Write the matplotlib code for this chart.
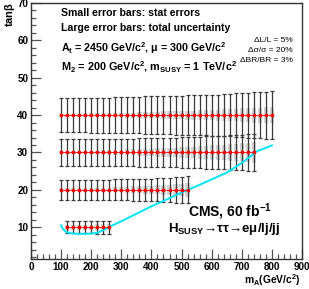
import matplotlib
matplotlib.use("Agg")
import matplotlib.pyplot as plt
from matplotlib.ticker import MultipleLocator
from matplotlib.patches import Rectangle

plt.rcParams['font.family'] = ['Liberation Sans', 'DejaVu Sans']
plt.rcParams['mathtext.fontset'] = 'custom'
plt.rcParams['mathtext.rm'] = 'Liberation Sans:bold'
plt.rcParams['mathtext.it'] = 'Liberation Sans:bold'
plt.rcParams['mathtext.bf'] = 'Liberation Sans:bold'

# ---------------- data ----------------
mA_40 = [100, 120, 140, 160, 180, 200, 220, 240, 260, 280, 300, 320, 340, 360, 380, 400, 420, 440,
         460, 480, 500, 520, 540, 560, 580, 600, 620, 640, 660, 680, 700, 720, 740, 760, 780, 800]
tot_40 = [4.6, 4.6, 4.6, 4.6, 4.6, 4.7, 4.7, 4.7, 4.7, 4.8, 4.8, 4.8, 4.9, 4.9, 5.0, 5.0, 5.0, 5.1,
          5.1, 5.2, 5.2, 5.3, 5.3, 5.4, 5.4, 5.5, 5.5, 5.6, 5.7, 5.8, 5.9, 6.0, 6.1, 6.2, 6.3, 6.5]
stat_40 = [0.4, 0.4, 0.4, 0.4, 0.5, 0.5, 0.5, 0.5, 0.6, 0.6, 0.6, 0.7, 0.7, 0.8, 0.8, 0.9, 0.9, 1.0,
           1.0, 1.1, 1.1, 1.2, 1.2, 1.3, 1.4, 1.4, 1.5, 1.6, 1.6, 1.7, 1.8, 1.9, 2.0, 2.0, 2.1, 2.2]

mA_30 = [100, 120, 140, 160, 180, 200, 220, 240, 260, 280, 300, 320, 340, 360, 380, 400, 420, 440,
         460, 480, 500, 520, 540, 560, 580, 600, 620, 640, 660, 680, 700, 720, 740]
tot_30 = [3.5, 3.5, 3.5, 3.5, 3.5, 3.6, 3.6, 3.6, 3.6, 3.6, 3.7, 3.7, 3.7, 3.8, 3.8, 3.8, 3.9, 3.9,
          4.0, 4.0, 4.1, 4.1, 4.2, 4.2, 4.3, 4.4, 4.4, 4.5, 4.6, 4.7, 4.8, 4.9, 5.0]
stat_30 = [0.4, 0.4, 0.4, 0.4, 0.5, 0.5, 0.5, 0.6, 0.6, 0.7, 0.7, 0.8, 0.8, 0.9, 1.0, 1.0, 1.1, 1.2,
           1.3, 1.3, 1.4, 1.5, 1.6, 1.7, 1.8, 1.9, 2.0, 2.1, 2.2, 2.4, 2.5, 2.6, 2.8]

mA_20 = [100, 120, 140, 160, 180, 200, 220, 240, 260, 280, 300, 320, 340, 360, 380, 400, 420, 440,
         460, 480, 500, 520]
tot_20 = [2.6, 2.6, 2.6, 2.6, 2.6, 2.6, 2.7, 2.7, 2.7, 2.8, 2.8, 2.8, 2.9, 2.9, 3.0, 3.0, 3.1, 3.2,
          3.3, 3.4, 3.5, 3.6]
stat_20 = [0.4, 0.4, 0.4, 0.4, 0.5, 0.5, 0.5, 0.6, 0.6, 0.7, 0.7, 0.8, 0.9, 0.9, 1.0, 1.1, 1.2, 1.3,
           1.4, 1.5, 1.6, 1.8]

mA_10 = [120, 140, 160, 180, 200, 220, 240, 260]
tot_10 = [1.6, 1.6, 1.6, 1.6, 1.6, 1.7, 1.7, 1.7]
stat_10 = [0.7, 0.7, 0.7, 0.7, 0.7, 0.8, 0.8, 0.8]

series = [(40, mA_40, tot_40, stat_40), (30, mA_30, tot_30, stat_30),
          (20, mA_20, tot_20, stat_20), (10, mA_10, tot_10, stat_10)]

curve_mA = [100, 105, 115, 130, 160, 200, 220, 240, 260, 300, 350, 400, 450, 500, 550, 600, 650,
            700, 750, 800]
curve_tb = [10.5, 9.6, 8.8, 8.4, 8.2, 8.3, 8.5, 9.2, 10.1, 11.6, 13.6, 15.6, 17.4, 19.3, 21.0,
            22.8, 24.6, 27.2, 30.3, 31.9]

# ---------------- figure ----------------
W, H = 309, 289
fig = plt.figure(figsize=(W / 100, H / 100), dpi=100)
ax = fig.add_axes([31 / W, (H - 259) / H, (302 - 31) / W, (259 - 3) / H])

box_w = 14
for tb, xs, tot, st in series:
    for x, t, s in zip(xs, tot, st):
        ax.add_patch(Rectangle((x - box_w / 2, tb - s), box_w, 2 * s,
                               facecolor='#d4d4d4', edgecolor='none', zorder=1))
    ax.errorbar(xs, [tb] * len(xs), yerr=tot, fmt='none', ecolor='#3a3a3a',
                elinewidth=0.9, capsize=1.6, capthick=0.9, zorder=2)
    ax.plot(xs, [tb] * len(xs), color='red', lw=0.6, zorder=3)
    ax.plot(xs, [tb] * len(xs), ls='none', marker='s', ms=2.0, color='red',
            mec='red', zorder=4)

ax.plot(curve_mA, curve_tb, color='#00e5f5', lw=1.4, zorder=2.5)

ax.set_xlim(0, 900)
ax.set_ylim(1.5, 70)
ax.xaxis.set_major_locator(MultipleLocator(100))
ax.xaxis.set_minor_locator(MultipleLocator(20))
ax.yaxis.set_major_locator(MultipleLocator(10))
ax.yaxis.set_minor_locator(MultipleLocator(2))
ax.tick_params(which='both', direction='in', top=False, right=False, color='#555555',
               width=0.9)
ax.tick_params(which='major', length=7, labelsize=7.1, pad=2)
ax.tick_params(which='minor', length=3.5)
for lab in ax.get_xticklabels() + ax.get_yticklabels():
    lab.set_fontweight('bold')
for sp in ax.spines.values():
    sp.set_color('#333333')
    sp.set_linewidth(1.0)


def ftext(px, py, s, **kw):
    fig.text(px / W, 1 - py / H, s, **kw)


# axis labels
ftext(10, 14, r'tan$\beta$', rotation=90, ha='center', va='center', fontsize=8,
      fontweight='bold')
ftext(300, 280, r'm$_\mathregular{A}$(GeV/c$^2$)', ha='right', va='center', fontsize=7.4,
      fontweight='bold')

ftext(61, 13, 'Small error bars: stat errors', fontsize=7.6, fontweight='bold', va='center')
ftext(61, 28, 'Large error bars: total uncertainty', fontsize=7.6, fontweight='bold',
      va='center')
ftext(61, 48, r'A$_\mathregular{t}$ = 2450 GeV/c$^2$, $\mu$ = 300 GeV/c$^2$', fontsize=7.7,
      fontweight='bold', va='center')
ftext(61, 67, r'M$_\mathregular{2}$ = 200 GeV/c$^2$, m$_\mathregular{SUSY}$ = 1 TeV/c$^2$',
      fontsize=7.8, fontweight='bold', va='center')
ftext(293, 41, 'ΔL/L = 5%', fontsize=6.0, ha='right', va='center')
ftext(293, 51, 'Δσ/σ = 20%', fontsize=6.0, ha='right', va='center')
ftext(293, 61, 'ΔBR/BR = 3%', fontsize=6.0, ha='right', va='center')
ftext(272, 212, r'CMS, 60 fb$^{-1}$', fontsize=10, fontweight='bold', ha='right', va='center')
ftext(280, 229, r'H$_\mathregular{SUSY}$→ττ→eμ/lj/jj', fontsize=9.5, fontweight='bold',
      ha='right', va='center')

fig.savefig('out.png', dpi=100)
